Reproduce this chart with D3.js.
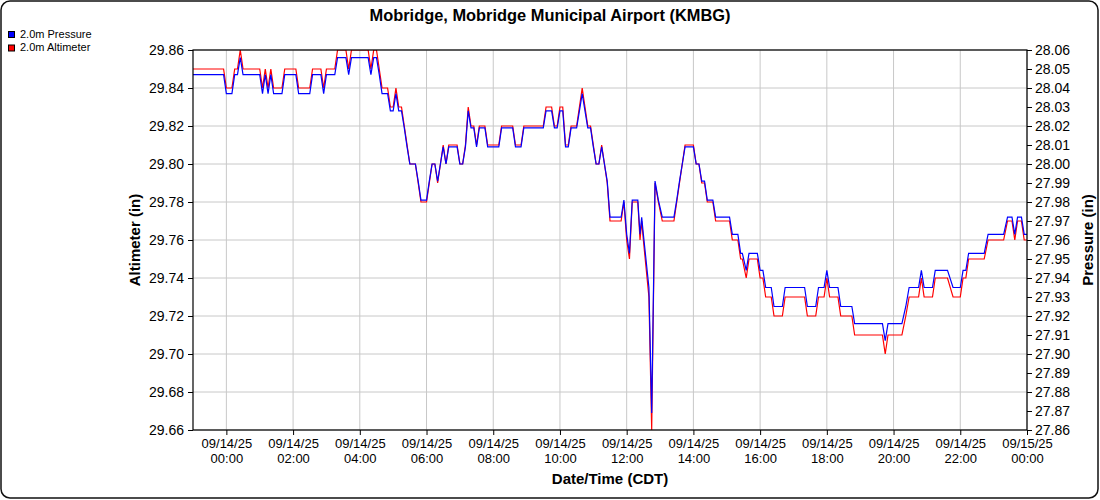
<!DOCTYPE html>
<html>
<head>
<meta charset="utf-8">
<script src="https://cdnjs.cloudflare.com/ajax/libs/d3/7.8.5/d3.min.js"></script>
<style>
  body { margin: 0; background: #fff; }
  svg { display: block; font-family: "Liberation Sans", Arial, sans-serif; }
</style>
</head>
<body>
<div id="chart"></div>
<script>
// observation times, minutes after 09/14/25 00:00 CDT
let obsMinutes = [
  -60, -5, 0, 10, 15, 20, 25, 30, 60, 65,
  70, 75, 80, 85, 100, 105, 125, 130, 150, 155,
  170, 175, 180, 195, 200, 215, 220, 225, 255, 260,
  265, 270, 275, 280, 290, 295, 300, 305, 310, 315,
  320, 325, 330, 340, 345, 350, 360, 365, 370, 375,
  380, 385, 390, 395, 400, 415, 420, 425, 430, 435,
  440, 445, 450, 455, 465, 470, 490, 495, 515, 520,
  530, 535, 570, 575, 585, 590, 595, 600, 605, 610,
  615, 620, 630, 635, 640, 645, 650, 655, 660, 665,
  670, 675, 680, 685, 690, 710, 715, 720, 725, 730,
  740, 744, 747, 750, 760, 765, 771, 777, 784, 805,
  810, 815, 820, 825, 840, 845, 850, 855, 860, 865,
  875, 880, 905, 910, 920, 925, 928, 935, 940, 955,
  960, 965, 970, 980, 985, 1000, 1005, 1040, 1045, 1060,
  1065, 1075, 1080, 1085, 1100, 1105, 1125, 1130, 1180, 1185,
  1190, 1215, 1222, 1228, 1245, 1250, 1255, 1270, 1275, 1297,
  1307, 1320, 1325, 1330, 1335, 1363, 1370, 1398, 1405, 1413,
  1418, 1423, 1430, 1435, 1440];

// 2.0m altimeter (in)
let altimeter = [
  29.85, 29.85, 29.84, 29.84, 29.85, 29.85, 29.86, 29.85, 29.85, 29.84,
  29.85, 29.84, 29.85, 29.84, 29.84, 29.85, 29.85, 29.84, 29.84, 29.85,
  29.85, 29.84, 29.85, 29.85, 29.86, 29.86, 29.85, 29.86, 29.86, 29.85,
  29.86, 29.86, 29.85, 29.84, 29.84, 29.83, 29.83, 29.84, 29.83, 29.83,
  29.82, 29.81, 29.80, 29.80, 29.79, 29.78, 29.78, 29.79, 29.80, 29.80,
  29.79, 29.80, 29.81, 29.80, 29.81, 29.81, 29.80, 29.80, 29.81, 29.83,
  29.82, 29.82, 29.81, 29.82, 29.82, 29.81, 29.81, 29.82, 29.82, 29.81,
  29.81, 29.82, 29.82, 29.83, 29.83, 29.82, 29.82, 29.83, 29.83, 29.81,
  29.81, 29.82, 29.82, 29.83, 29.84, 29.83, 29.82, 29.82, 29.81, 29.80,
  29.80, 29.81, 29.80, 29.79, 29.77, 29.77, 29.78, 29.76, 29.75, 29.78,
  29.78, 29.76, 29.77, 29.76, 29.73, 29.66, 29.79, 29.78, 29.77, 29.77,
  29.78, 29.79, 29.80, 29.81, 29.81, 29.80, 29.80, 29.79, 29.79, 29.78,
  29.78, 29.77, 29.77, 29.76, 29.76, 29.75, 29.75, 29.74, 29.75, 29.75,
  29.74, 29.74, 29.73, 29.73, 29.72, 29.72, 29.73, 29.73, 29.72, 29.72,
  29.73, 29.73, 29.74, 29.73, 29.73, 29.72, 29.72, 29.71, 29.71, 29.70,
  29.71, 29.71, 29.72, 29.73, 29.73, 29.74, 29.73, 29.73, 29.74, 29.74,
  29.73, 29.73, 29.74, 29.74, 29.75, 29.75, 29.76, 29.76, 29.77, 29.77,
  29.76, 29.77, 29.77, 29.76, 29.76];

// 2.0m pressure (in)
let pressure = [
  28.047, 28.047, 28.037, 28.037, 28.047, 28.047, 28.056, 28.047, 28.047, 28.037,
  28.047, 28.037, 28.047, 28.037, 28.037, 28.047, 28.047, 28.037, 28.037, 28.047,
  28.047, 28.037, 28.047, 28.047, 28.056, 28.056, 28.047, 28.056, 28.056, 28.047,
  28.056, 28.056, 28.047, 28.037, 28.037, 28.028, 28.028, 28.037, 28.028, 28.028,
  28.019, 28.009, 28.000, 28.000, 27.991, 27.981, 27.981, 27.991, 28.000, 28.000,
  27.991, 28.000, 28.009, 28.000, 28.009, 28.009, 28.000, 28.000, 28.009, 28.028,
  28.019, 28.019, 28.009, 28.019, 28.019, 28.009, 28.009, 28.019, 28.019, 28.009,
  28.009, 28.019, 28.019, 28.028, 28.028, 28.019, 28.019, 28.028, 28.028, 28.009,
  28.009, 28.019, 28.019, 28.028, 28.037, 28.028, 28.019, 28.019, 28.009, 28.000,
  28.000, 28.009, 28.000, 27.991, 27.972, 27.972, 27.981, 27.963, 27.953, 27.981,
  27.981, 27.963, 27.972, 27.963, 27.935, 27.869, 27.991, 27.981, 27.972, 27.972,
  27.981, 27.991, 28.000, 28.009, 28.009, 28.000, 28.000, 27.991, 27.991, 27.981,
  27.981, 27.972, 27.972, 27.963, 27.963, 27.953, 27.953, 27.944, 27.953, 27.953,
  27.944, 27.944, 27.935, 27.935, 27.925, 27.925, 27.935, 27.935, 27.925, 27.925,
  27.935, 27.935, 27.944, 27.935, 27.935, 27.925, 27.925, 27.916, 27.916, 27.907,
  27.916, 27.916, 27.925, 27.935, 27.935, 27.944, 27.935, 27.935, 27.944, 27.944,
  27.935, 27.935, 27.944, 27.944, 27.953, 27.953, 27.963, 27.963, 27.972, 27.972,
  27.963, 27.972, 27.972, 27.963, 27.963];

let altTicks = [29.66, 29.68, 29.70, 29.72, 29.74, 29.76, 29.78, 29.80, 29.82, 29.84, 29.86];
let pressTicks = [27.86, 27.87, 27.88, 27.89, 27.90, 27.91, 27.92, 27.93, 27.94, 27.95, 27.96,
  27.97, 27.98, 27.99, 28.00, 28.01, 28.02, 28.03, 28.04, 28.05, 28.06];
let seriesNames = ['2.0m Pressure', '2.0m Altimeter'];
let seriesColors = ['#0000ff', '#ff0000'];

let margin = { top: 50, right: 73, bottom: 70, left: 193 },
  width = 1100 - margin.left - margin.right,
  height = 500 - margin.top - margin.bottom;

let base = new Date(2025, 8, 14, 0, 0);
let data = obsMinutes.map((m, i) => ({
  date: d3.timeMinute.offset(base, m),
  alt: altimeter[i],
  press: pressure[i] }));

let root = d3.select('#chart').
append('svg').
attr('width', 1100).
attr('height', 500);

//outer rounded frame
root.append('rect').
attr('x', 1).
attr('y', 1).
attr('width', 1097).
attr('height', 497).
attr('rx', 9).
attr('fill', '#fff').
attr('stroke', '#111').
attr('stroke-width', 1.5);

root.append('text').
attr('x', 550).
attr('y', 20.5).
attr('text-anchor', 'middle').
attr('font-size', '16.4px').
attr('font-weight', 'bold').
text('Mobridge, Mobridge Municipal Airport (KMBG)');

//legend
let legend = root.append('g').
selectAll('g').
data(seriesNames).
enter().
append('g').
attr('transform', (d, i) => 'translate(8,' + (31 + i * 13.5) + ')');

legend.append('rect').
attr('x', 0.5).
attr('y', 0.5).
attr('width', 6).
attr('height', 6).
attr('fill', (d, i) => seriesColors[i]).
attr('stroke', '#000').
attr('stroke-width', 1);

legend.append('text').
attr('x', 12).
attr('y', 6.5).
attr('font-size', '11px').
text(d => d);

let svg = root.append('g').
attr('transform', 'translate(' + margin.left + ',' + margin.top + ')');

let x = d3.scaleTime().
domain([new Date(2025, 8, 13, 23, 0), new Date(2025, 8, 15, 0, 0)]).
range([0, width]);

let yAlt = d3.scaleLinear().
domain([29.66, 29.86]).
range([height, 0]);

let yPress = d3.scaleLinear().
domain([27.86, 28.06]).
range([height, 0]);

let hourTicks = x.ticks(d3.timeHour.every(2));

//grid
svg.append('g').
selectAll('line').
data(hourTicks).
enter().
append('line').
attr('x1', d => x(d)).
attr('x2', d => x(d)).
attr('y1', 0).
attr('y2', height).
attr('stroke', '#c8c8c8');

svg.append('g').
selectAll('line').
data(altTicks).
enter().
append('line').
attr('x1', 0).
attr('x2', width).
attr('y1', d => yAlt(d)).
attr('y2', d => yAlt(d)).
attr('stroke', '#c8c8c8');

//lines
svg.append('clipPath').
attr('id', 'plotClip').
append('rect').
attr('width', width).
attr('height', height);

let altLine = d3.line().
x(d => x(d.date)).
y(d => yAlt(d.alt));

let pressLine = d3.line().
x(d => x(d.date)).
y(d => yPress(d.press));

svg.append('path').
datum(data).
attr('clip-path', 'url(#plotClip)').
attr('fill', 'none').
attr('stroke', seriesColors[1]).
attr('stroke-width', 1.2).
attr('d', altLine);

svg.append('path').
datum(data).
attr('clip-path', 'url(#plotClip)').
attr('fill', 'none').
attr('stroke', seriesColors[0]).
attr('stroke-width', 1.2).
attr('d', pressLine);

//plot border
svg.append('rect').
attr('x', 0).
attr('y', 0).
attr('width', width).
attr('height', height).
attr('fill', 'none').
attr('stroke', '#000').
attr('stroke-width', 1.2);

//axes
let leftAxis = svg.append('g').
call(d3.axisLeft(yAlt).tickValues(altTicks).tickFormat(d3.format('.2f')).tickSize(5).tickPadding(4));

let rightAxis = svg.append('g').
attr('transform', 'translate(' + width + ',0)').
call(d3.axisRight(yPress).tickValues(pressTicks).tickFormat(d3.format('.2f')).tickSize(5).tickPadding(3));

let bottomAxis = svg.append('g').
attr('transform', 'translate(0,' + height + ')').
call(d3.axisBottom(x).tickValues(hourTicks).tickSize(5).tickFormat(''));

[leftAxis, rightAxis, bottomAxis].forEach(function (a) {
  a.select('.domain').remove();
  a.selectAll('line').attr('stroke', '#000');
  a.selectAll('text').
  attr('fill', '#000').
  attr('font-family', '"Liberation Sans", Arial, sans-serif').
  attr('font-size', '14px');
});

let fmtDate = d3.timeFormat('%m/%d/%y');
let fmtTime = d3.timeFormat('%H:%M');

bottomAxis.selectAll('.tick').each(function (d) {
  let t = d3.select(this);
  t.select('text').remove();
  t.append('text').
  attr('y', 18).
  attr('text-anchor', 'middle').
  attr('font-size', '13px').
  attr('fill', '#000').
  text(fmtDate(d));
  t.append('text').
  attr('y', 33).
  attr('text-anchor', 'middle').
  attr('font-size', '13px').
  attr('fill', '#000').
  text(fmtTime(d));
});

//axis titles
svg.append('text').
attr('x', width / 2).
attr('y', height + 53.5).
attr('text-anchor', 'middle').
attr('font-size', '15px').
attr('font-weight', 'bold').
text('Date/Time (CDT)');

svg.append('text').
attr('transform', 'translate(' + (140 - margin.left) + ',' + height / 2 + ') rotate(-90)').
attr('text-anchor', 'middle').
attr('font-size', '15px').
attr('font-weight', 'bold').
text('Altimeter (in)');

svg.append('text').
attr('transform', 'translate(' + (1093 - margin.left) + ',' + height / 2 + ') rotate(-90)').
attr('text-anchor', 'middle').
attr('font-size', '15px').
attr('font-weight', 'bold').
text('Pressure (in)');
</script>
</body>
</html>
